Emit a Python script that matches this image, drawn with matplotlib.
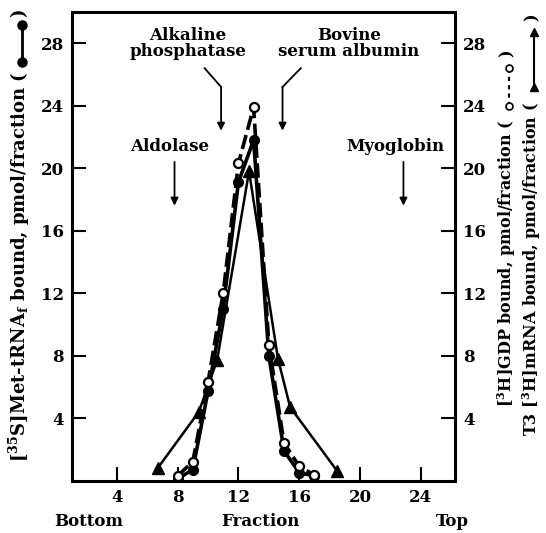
import matplotlib
matplotlib.use('Agg')
import matplotlib.pyplot as plt
from matplotlib.lines import Line2D

plt.rcParams['font.family'] = ['DejaVu Serif', 'DejaVu Sans']
plt.rcParams['font.weight'] = 'bold'
plt.rcParams['mathtext.fontset'] = 'dejavuserif'
plt.rcParams['mathtext.default'] = 'bf'

# data
met_x = [8, 9, 10, 11, 12, 13, 14, 15, 16, 17]
met_y = [0.1, 0.7, 5.7, 11.0, 19.1, 21.8, 8.0, 1.9, 0.5, 0.3]
gdp_x = [8, 9, 10, 11, 12, 13, 14, 15, 16, 17]
gdp_y = [0.3, 1.2, 6.3, 12.0, 20.3, 23.9, 8.7, 2.4, 0.9, 0.35]
mrna_x = [6.7, 9.4, 10.6, 12.7, 14.6, 15.4, 18.5]
mrna_y = [0.8, 4.4, 7.7, 19.8, 7.8, 4.7, 0.6]

xticks = [4, 8, 12, 16, 20, 24]
yticks = [4, 8, 12, 16, 20, 24, 28]

W, H = 546, 533
fig = plt.figure(figsize=(W / 100, H / 100), dpi=100)
ax = fig.add_axes([72 / W, 1 - 480.5 / H, (455 - 72) / W, (480.5 - 12) / H])

ax.plot(met_x, met_y, '-', color='k', lw=2.6, marker='o', ms=7, mfc='k', mec='k', zorder=3)
ax.plot(mrna_x, mrna_y, '-', color='k', lw=1.8, marker='^', ms=9, mfc='k', mec='k', zorder=4)
ax.plot(gdp_x, gdp_y, '--', color='k', lw=2.6, dashes=(4, 1.5), marker='o', ms=6.5,
        mfc='white', mec='k', mew=1.6, zorder=5)

ax.set_xlim(1.06, 26.24)
ax.set_ylim(0, 30)
ax.set_xticks(xticks)
ax.set_yticks(yticks)
ax.tick_params(direction='in', length=10, width=1.5, labelsize=12,
               right=True, labelright=True, top=False, pad=6)
for s in ax.spines.values():
    s.set_linewidth(2.2)

# marker proteins
afs = 12
ax.text(8.69, 28.0, 'Alkaline\nphosphatase', ha='center', va='center', fontsize=afs, linespacing=0.95)
ax.text(19.27, 28.0, 'Bovine\nserum albumin', ha='center', va='center', fontsize=afs, linespacing=0.95)
ax.text(7.5, 21.4, 'Aldolase', ha='center', va='center', fontsize=afs)
ax.text(22.3, 21.4, 'Myoglobin', ha='center', va='center', fontsize=afs)

aprops = dict(arrowstyle='-|>', lw=1.3, color='k', mutation_scale=11, shrinkA=0, shrinkB=0)
ax.plot([9.78, 10.86], [26.4, 25.2], color='k', lw=1.3)
ax.annotate('', xy=(10.86, 22.4), xytext=(10.86, 25.2), arrowprops=aprops)
ax.plot([16.1, 14.9], [26.4, 25.2], color='k', lw=1.3)
ax.annotate('', xy=(14.9, 22.4), xytext=(14.9, 25.2), arrowprops=aprops)
ax.annotate('', xy=(7.8, 17.6), xytext=(7.8, 20.4), arrowprops=aprops)
ax.annotate('', xy=(22.85, 17.6), xytext=(22.85, 20.4), arrowprops=aprops)

# bottom labels
fig.text(89 / W, 1 - 521 / H, 'Bottom', ha='center', va='center', fontsize=12)
fig.text(260 / W, 1 - 521 / H, 'Fraction', ha='center', va='center', fontsize=12)
fig.text(452 / W, 1 - 521 / H, 'Top', ha='center', va='center', fontsize=12)

# left axis label with legend symbol
lfs = 13
fig.text(19 / W, 1 - 72 / H, r'[$^{35}$S]Met-tRNA$_f$ bound, pmol/fraction (',
         rotation=90, ha='center', va='top', fontsize=lfs)
fig.add_artist(Line2D([22 / W, 22 / W], [1 - 25 / H, 1 - 62 / H], color='k', lw=2,
                      marker='o', ms=6.5, mfc='k', mec='k'))
fig.text(19 / W, 1 - 13 / H, ')', rotation=90, ha='center', va='center', fontsize=lfs)

# right axis labels with legend symbols
rfs = 11.5
fig.text(507 / W, 1 - 120 / H, r'[$^{3}$H]GDP bound, pmol/fraction (',
         rotation=90, ha='center', va='top', fontsize=rfs)
fig.add_artist(Line2D([509 / W, 509 / W], [1 - 106 / H, 1 - 68 / H], color='k', lw=1.5,
                      ls=(0, (2, 2)), marker='o', ms=5, mfc='white', mec='k', mew=1.2))
fig.text(507 / W, 1 - 53 / H, ')', rotation=90, ha='center', va='center', fontsize=rfs)

fig.text(532 / W, 1 - 102 / H, r'T3 [$^{3}$H]mRNA bound, pmol/fraction (',
         rotation=90, ha='center', va='top', fontsize=rfs)
fig.add_artist(Line2D([534 / W, 534 / W], [1 - 87 / H, 1 - 32 / H], color='k', lw=1.5,
                      marker='^', ms=6, mfc='k', mec='k'))
fig.text(532 / W, 1 - 17 / H, ')', rotation=90, ha='center', va='center', fontsize=rfs)

fig.savefig('out.png', dpi=100)
